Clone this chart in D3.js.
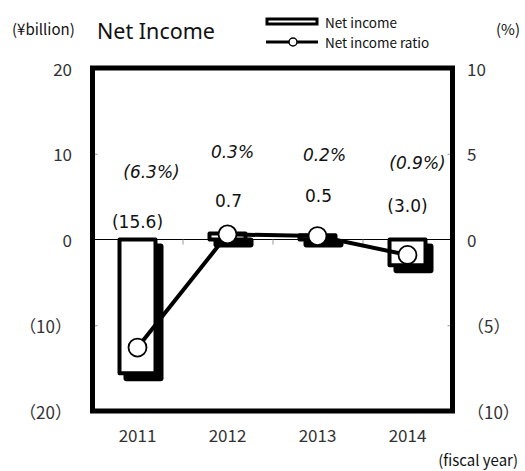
<!DOCTYPE html>
<html>
<head>
<meta charset="utf-8">
<script src="https://cdn.jsdelivr.net/npm/d3@7"></script>
<style>
  html, body { margin: 0; padding: 0; background: #fff; }
  svg { display: block; }
  .tick-label { font-family: "Noto Sans CJK JP", "Noto Sans", sans-serif; font-size: 17px; fill: #333; }
  .val { font-family: "DejaVu Sans", Verdana, sans-serif; font-size: 17px; fill: #111; }
  .pct { font-family: "DejaVu Sans", Verdana, sans-serif; font-size: 17px; font-style: italic; fill: #111; }
  .leg { font-family: "Noto Sans CJK JP", "Noto Sans", sans-serif; font-size: 13.5px; fill: #111; }
</style>
</head>
<body>
<svg id="chart" width="525" height="471"></svg>
<script>
// Fiscal years and values
const years = ["2011", "2012", "2013", "2014"];
const netIncome = [-15.6, 0.7, 0.5, -3.0];          // ¥billion
const netIncomeRatio = [-6.3, 0.3, 0.2, -0.9];      // %
const incomeLabels = ["(15.6)", "0.7", "0.5", "(3.0)"];
const ratioLabels = ["(6.3%)", "0.3%", "0.2%", "(0.9%)"];
const leftTicks = [20, 10, 0, -10, -20];
const leftTickText = ["20", "10", "0", "（10）", "（20）"];
const rightTicks = [10, 5, 0, -5, -10];
const rightTickText = ["10", "5", "0", "（5）", "（10）"];

// Layout
const plot = { left: 92.5, right: 452.5, top: 68, bottom: 411 };
// label offsets [dx, dy] from the zero line, per year
const incomeLabelShift = [[0, -18], [1, -39], [1, -44], [0, -34]];
const ratioLabelShift = [[14, -68], [5, -88], [7, -85], [10, -77]];

const svg = d3.select("#chart");

const x = d3.scaleBand().domain(years)
  .range([plot.left, plot.right])
  .paddingInner(0.6).paddingOuter(0.3);
const yL = d3.scaleLinear().domain([-20, 20]).range([plot.bottom, plot.top]);
const yR = d3.scaleLinear().domain([-10, 10]).range([plot.bottom, plot.top]);
const cx = d => x(d) + x.bandwidth() / 2;

// zero line
svg.append("line")
  .attr("x1", plot.left).attr("x2", plot.right)
  .attr("y1", yL(0)).attr("y2", yL(0))
  .attr("stroke", "#000").attr("stroke-width", 1);

// category separators on the zero line
const sepAxis = d3.axisBottom(d3.scaleLinear().domain([0, 4]).range([plot.left, plot.right]))
  .tickValues([1, 2, 3]).tickSize(5).tickFormat("");
svg.append("g").attr("transform", `translate(0,${yL(0)})`).call(sepAxis)
  .call(g => g.select(".domain").remove())
  .call(g => g.selectAll("line").attr("stroke", "#999"));

// minor ticks inside the frame
const lAx = d3.axisRight(yL).tickValues([10, -10]).tickSize(5).tickFormat("");
svg.append("g").attr("transform", `translate(${plot.left},0)`).call(lAx)
  .call(g => g.select(".domain").remove())
  .call(g => g.selectAll("line").attr("stroke", "#999"));
const rAx = d3.axisLeft(yR).tickValues([5, -5]).tickSize(5).tickFormat("");
svg.append("g").attr("transform", `translate(${plot.right},0)`).call(rAx)
  .call(g => g.select(".domain").remove())
  .call(g => g.selectAll("line").attr("stroke", "#999"));

// bars: shadow then outlined box
const bw = x.bandwidth();
const bars = svg.append("g");
bars.selectAll("rect.shadow").data(netIncome).join("rect")
  .attr("class", "shadow")
  .attr("x", (d, i) => x(years[i]) + 4)
  .attr("y", d => Math.min(yL(d), yL(0)) + 4)
  .attr("width", bw + 4)
  .attr("height", d => Math.abs(yL(d) - yL(0)) + 4)
  .attr("rx", 3)
  .attr("fill", "#000");
bars.selectAll("rect.box").data(netIncome).join("rect")
  .attr("class", "box")
  .attr("x", (d, i) => x(years[i]))
  .attr("y", d => Math.min(yL(d), yL(0)))
  .attr("width", bw)
  .attr("height", d => Math.abs(yL(d) - yL(0)))
  .attr("fill", "#fff")
  .attr("stroke", "#000")
  .attr("stroke-width", 4)
  .attr("stroke-linejoin", "round");

// ratio line
const line = d3.line().x((d, i) => cx(years[i])).y(d => yR(d));
svg.append("path").datum(netIncomeRatio)
  .attr("d", line)
  .attr("fill", "none").attr("stroke", "#000").attr("stroke-width", 4);
svg.selectAll("circle.pt").data(netIncomeRatio).join("circle")
  .attr("class", "pt")
  .attr("cx", (d, i) => cx(years[i]))
  .attr("cy", d => yR(d))
  .attr("r", 9)
  .attr("fill", "#fff").attr("stroke", "#000").attr("stroke-width", 1.8);

// frame
svg.append("rect")
  .attr("x", plot.left).attr("y", plot.top)
  .attr("width", plot.right - plot.left).attr("height", plot.bottom - plot.top)
  .attr("fill", "none").attr("stroke", "#000").attr("stroke-width", 5);

// value labels
svg.selectAll("text.val").data(incomeLabels).join("text")
  .attr("class", "val")
  .attr("x", (d, i) => cx(years[i]) + incomeLabelShift[i][0])
  .attr("y", (d, i) => yL(0) + incomeLabelShift[i][1])
  .attr("text-anchor", "middle").attr("dominant-baseline", "central")
  .text(d => d);
svg.selectAll("text.pct").data(ratioLabels).join("text")
  .attr("class", "pct")
  .attr("x", (d, i) => cx(years[i]) + ratioLabelShift[i][0])
  .attr("y", (d, i) => yL(0) + ratioLabelShift[i][1])
  .attr("text-anchor", "middle").attr("dominant-baseline", "central")
  .text(d => d);

// axis tick labels
svg.selectAll("text.lt").data(leftTicks).join("text")
  .attr("class", "tick-label lt")
  .attr("x", 72).attr("y", d => yL(d))
  .attr("text-anchor", "end").attr("dominant-baseline", "central")
  .text((d, i) => leftTickText[i]);
svg.selectAll("text.rt").data(rightTicks).join("text")
  .attr("class", "tick-label rt")
  .attr("x", 467).attr("y", d => yR(d))
  .attr("text-anchor", "start").attr("dominant-baseline", "central")
  .text((d, i) => rightTickText[i]);
svg.selectAll("text.xt").data(years).join("text")
  .attr("class", "tick-label xt")
  .attr("x", d => cx(d)).attr("y", 434)
  .attr("text-anchor", "middle").attr("dominant-baseline", "central")
  .text(d => d);

// units and title
svg.append("text").attr("class", "leg").attr("x", 12).attr("y", 28)
  .attr("dominant-baseline", "central").style("font-size", "15px").text("(¥billion)");
svg.append("text").attr("class", "leg").attr("x", 520).attr("y", 28)
  .attr("text-anchor", "end").attr("dominant-baseline", "central").style("font-size", "15px").text("(%)");
svg.append("text").attr("x", 97).attr("y", 30)
  .attr("dominant-baseline", "central")
  .style("font-family", "'Noto Sans', sans-serif").style("font-size", "21.5px").style("fill", "#111")
  .text("Net Income");
svg.append("text").attr("class", "leg").attr("x", 518).attr("y", 459)
  .attr("text-anchor", "end").attr("dominant-baseline", "central").style("font-size", "15px").text("(fiscal year)");

// legend
const leg = svg.append("g");
leg.append("rect").attr("x", 267).attr("y", 19).attr("width", 50).attr("height", 5)
  .attr("fill", "#fff").attr("stroke", "#000").attr("stroke-width", 3);
leg.append("text").attr("class", "leg").attr("x", 325).attr("y", 22)
  .attr("dominant-baseline", "central").text("Net income");
leg.append("line").attr("x1", 266).attr("x2", 318).attr("y1", 42).attr("y2", 42)
  .attr("stroke", "#000").attr("stroke-width", 3);
leg.append("circle").attr("cx", 293).attr("cy", 42).attr("r", 4)
  .attr("fill", "#fff").attr("stroke", "#000").attr("stroke-width", 1.5);
leg.append("text").attr("class", "leg").attr("x", 325).attr("y", 42)
  .attr("dominant-baseline", "central").text("Net income ratio");
</script>
</body>
</html>
